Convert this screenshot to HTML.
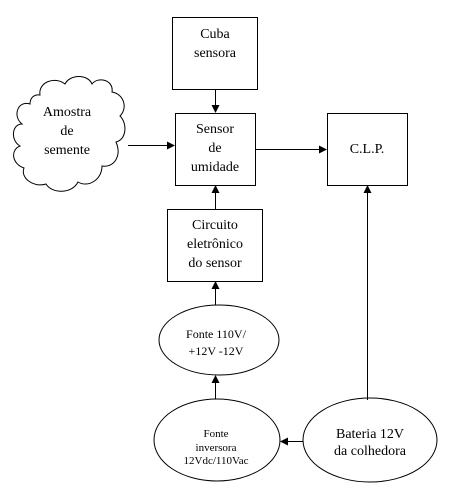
<!DOCTYPE html>
<html><head><style>
body{margin:0;background:#fff}
text{font-family:'Liberation Serif','DejaVu Serif','Times New Roman',serif}
</style></head><body>
<svg width="465" height="492" viewBox="0 0 465 492" xmlns="http://www.w3.org/2000/svg">
<defs><marker id="a" markerWidth="8" markerHeight="8" refX="7" refY="4" orient="auto" markerUnits="userSpaceOnUse"><path d="M0,0 L8,4 L0,8 z" fill="#000"/></marker></defs>
<g fill="none" stroke="#000" stroke-width="1">
<rect x="172.5" y="17.5" width="85" height="72"/>
<rect x="175.5" y="113.5" width="80" height="72"/>
<rect x="327.5" y="113.5" width="80" height="72"/>
<rect x="167.5" y="209.5" width="95" height="72"/>
<ellipse cx="219" cy="340" rx="60" ry="35"/>
<ellipse cx="217" cy="440" rx="63" ry="41"/>
<ellipse cx="370" cy="440" rx="67" ry="42"/>
<path d="M40,95 C38,82 55,76 65,84 C70,74 88,74 92,84 C98,76 114,80 112,92 C124,94 128,108 120,116 C128,124 126,140 116,142 C122,156 114,168 102,166 C102,180 88,188 78,182 C72,194 52,194 46,184 C34,188 20,178 24,168 C12,164 10,150 20,146 C10,140 12,124 22,124 C12,116 18,100 30,104 C30,98 34,94 40,95 Z"/>
<line x1="215.5" y1="89" x2="215.5" y2="112" marker-end="url(#a)"/>
<line x1="128" y1="145.5" x2="174" y2="145.5" marker-end="url(#a)"/>
<line x1="255" y1="149.5" x2="326" y2="149.5" marker-end="url(#a)"/>
<line x1="215.5" y1="209" x2="215.5" y2="186" marker-end="url(#a)"/>
<line x1="367.5" y1="400" x2="367.5" y2="186" marker-end="url(#a)"/>
<line x1="215.5" y1="305" x2="215.5" y2="282" marker-end="url(#a)"/>
<line x1="215.5" y1="399" x2="215.5" y2="376" marker-end="url(#a)"/>
<line x1="303" y1="441.5" x2="281" y2="441.5" marker-end="url(#a)"/>
</g>
<g font-size="14" text-anchor="middle" fill="#000">
<text x="215" y="38">Cuba</text><text x="215" y="57">sensora</text>
<text x="67" y="116">Amostra</text><text x="67" y="135">de</text><text x="67" y="154">semente</text>
<text x="215" y="133">Sensor</text><text x="215" y="152">de</text><text x="215" y="171">umidade</text>
<text x="367" y="153">C.L.P.</text>
<text x="215" y="229">Circuito</text><text x="215" y="248">eletrônico</text><text x="215" y="267">do sensor</text>
<text x="216" y="338" font-size="12">Fonte 110V/</text><text x="216" y="355" font-size="12">+12V -12V</text>
<text x="216" y="437" font-size="11">Fonte</text><text x="216" y="451" font-size="11">inversora</text><text x="216" y="464" font-size="11">12Vdc/110Vac</text>
<text x="370" y="438">Bateria 12V</text><text x="370" y="455">da colhedora</text>
</g>
</svg>
</body></html>
